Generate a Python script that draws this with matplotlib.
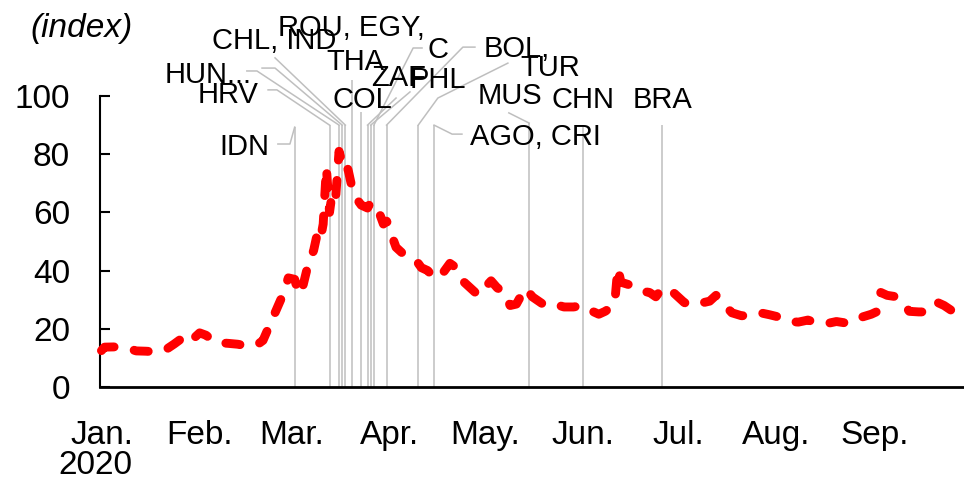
import matplotlib
matplotlib.use("Agg")
import matplotlib.pyplot as plt
import matplotlib.dates as mdates
import pandas as pd

plt.rcParams['font.family'] = ['Liberation Sans', 'DejaVu Sans']

# ---------------- data ----------------
dates = [
    "2020-01-01", "2020-01-02", "2020-01-06", "2020-01-09", "2020-01-12", "2020-01-15",
    "2020-01-18", "2020-01-21", "2020-01-24", "2020-01-27", "2020-01-29", "2020-02-01",
    "2020-02-03", "2020-02-06", "2020-02-10", "2020-02-13", "2020-02-16", "2020-02-19",
    "2020-02-21", "2020-02-23", "2020-02-25", "2020-02-27", "2020-02-29", "2020-03-02",
    "2020-03-03", "2020-03-04", "2020-03-05", "2020-03-06", "2020-03-07", "2020-03-08",
    "2020-03-09", "2020-03-10", "2020-03-11", "2020-03-12", "2020-03-13", "2020-03-14",
    "2020-03-15", "2020-03-16", "2020-03-17", "2020-03-18", "2020-03-19", "2020-03-20",
    "2020-03-21", "2020-03-22", "2020-03-23", "2020-03-24", "2020-03-25", "2020-03-26",
    "2020-03-27", "2020-03-28", "2020-03-29", "2020-03-30", "2020-03-31", "2020-04-01",
    "2020-04-02", "2020-04-03", "2020-04-05", "2020-04-07", "2020-04-09", "2020-04-11",
    "2020-04-13", "2020-04-15", "2020-04-17", "2020-04-20", "2020-04-22", "2020-04-24",
    "2020-04-27", "2020-04-29", "2020-04-30", "2020-05-03", "2020-05-05", "2020-05-07",
    "2020-05-09", "2020-05-11", "2020-05-12", "2020-05-14", "2020-05-16", "2020-05-18",
    "2020-05-20", "2020-05-23", "2020-05-26", "2020-05-29", "2020-06-01", "2020-06-03",
    "2020-06-06", "2020-06-08", "2020-06-10", "2020-06-11", "2020-06-12", "2020-06-13",
    "2020-06-16", "2020-06-19", "2020-06-22", "2020-06-24", "2020-06-26", "2020-06-29",
    "2020-07-01", "2020-07-03", "2020-07-06", "2020-07-09", "2020-07-11", "2020-07-13",
    "2020-07-15", "2020-07-18", "2020-07-21", "2020-07-24", "2020-07-27", "2020-07-30",
    "2020-08-02", "2020-08-05", "2020-08-08", "2020-08-11", "2020-08-14", "2020-08-17",
    "2020-08-20", "2020-08-23", "2020-08-26", "2020-08-28", "2020-08-31", "2020-09-02",
    "2020-09-03", "2020-09-05", "2020-09-08", "2020-09-10", "2020-09-12", "2020-09-15",
    "2020-09-18", "2020-09-21", "2020-09-23", "2020-09-26", "2020-09-28",
]
values = [
    12.5, 13.7, 13.8, 13.4, 12.4, 12.3,
    12.1, 12.6, 14.8, 17.2, 15.6, 18.6,
    17.8, 15.3, 15.0, 14.7, 14.1, 14.4,
    16.0, 21.0, 26.0, 31.0, 37.5, 37.0,
    33.0, 32.0, 36.5, 41.0, 44.0, 47.0,
    52.0, 50.0, 56.0, 75.5, 60.0, 68.0,
    66.0, 81.0, 77.0, 78.0, 74.0, 69.0,
    66.0, 64.0, 62.5, 62.0, 61.5, 63.5,
    63.0, 61.0, 59.0, 56.0, 57.0, 55.0,
    51.0, 48.0, 46.0, 45.0, 44.0, 41.0,
    40.0, 37.5, 38.0, 42.5, 41.0, 36.5,
    33.5, 31.5, 33.0, 36.5, 34.0, 33.0,
    28.0, 28.5, 30.5, 34.0, 31.0, 29.5,
    28.0, 28.5, 27.5, 27.5, 28.0, 26.5,
    25.0, 26.0, 27.5, 28.5, 41.0, 36.0,
    35.0, 33.0, 32.5, 31.0, 34.0, 33.0,
    31.0, 29.0, 28.0, 29.0, 29.5, 31.5,
    29.0, 25.5, 24.5, 24.5, 25.5, 24.8,
    24.0, 22.5, 22.3, 23.0, 22.0, 21.8,
    22.5, 22.0, 22.5, 24.0, 25.0, 26.0,
    32.5, 31.5, 31.0, 29.0, 26.0, 25.8,
    25.8, 29.0, 28.0, 25.8, 26.0,
]

event_dates = [
    "2020-03-02", "2020-03-13", "2020-03-16", "2020-03-17", "2020-03-18", "2020-03-20",
    "2020-03-23", "2020-03-25", "2020-03-26", "2020-03-27", "2020-03-31", "2020-04-10",
    "2020-04-15", "2020-05-15", "2020-06-01", "2020-06-26",
]

label_texts = ["ROU, EGY,", "CHL, IND", "THA", "HUN...", "HRV", "COL", "ZAF", "PHL",
               "C", "BOL,", "TUR", "MUS", "CHN", "BRA", "AGO, CRI", "IDN"]

month_starts = ["2020-01-01", "2020-02-01", "2020-03-01", "2020-04-01", "2020-05-01",
                "2020-06-01", "2020-07-01", "2020-08-01", "2020-09-01"]
month_labels = ["Jan.", "Feb.", "Mar.", "Apr.", "May.", "Jun.", "Jul.", "Aug.", "Sep."]
year_label = "2020"
y_ticks = [0, 20, 40, 60, 80, 100]
unit_label = "(index)"

# ---------------- layout (annotation placement, day offsets from 1 Jan) ----------------
event_tops = [89.3, 90, 90, 90, 90, 105.5, 94.5, 90, 90, 90, 90, 90, 90, 90.7, 89.3, 90]
label_pos = [
    (55.7, 120.6), (34.9, 116.2), (70.9, 108.9), (20.1, 104.5), (30.5, 97.6),
    (72.8, 95.9), (85.1, 103.4), (97.4, 102.7), (102.8, 113.1), (120.5, 113.4),
    (132.4, 107.0), (118.6, 97.4), (142.2, 96.0), (167.8, 96.0), (116.3, 83.2),
    (37.1, 79.7),
]
leaders = [
    [(55.7, 83.5), (59.5, 83.5), (61.0, 89.3)],      # IDN
    [(52.6, 102.1), (55.4, 102.1), (72.0, 90.0)],    # HRV
    [(45.9, 108.6), (49.1, 108.6), (75.0, 90.0)],    # HUN
    [(50.7, 109.6), (54.8, 109.6), (76.0, 90.0)],    # CHL
    [(54.8, 113.1), (77.0, 90.0)],                   # IND
    [(93.0, 99.3), (84.0, 90.0)],                    # ZAF
    [(97.4, 101.4), (85.0, 90.0)],                   # PHL
    [(101.2, 116.5), (98.4, 116.5), (86.0, 90.0)],   # C
    [(117.9, 116.8), (114.1, 116.8), (90.0, 90.0)],  # BOL
    [(128.3, 111.3), (106.2, 99.3), (100.0, 90.0)],  # TUR
    [(113.8, 86.9), (110.7, 86.9), (105.0, 90.0)],   # AGO, CRI
    [(128.6, 94.2), (135.0, 90.7)],                  # MUS
]

GRAY = "#BFBFBF"

fig = plt.figure(figsize=(9.64, 4.8), dpi=100)
ax = fig.add_axes([100 / 964, 93 / 480, 864 / 964, 291 / 480])

base = mdates.date2num(pd.Timestamp("2020-01-01"))
x_data = mdates.date2num(pd.to_datetime(dates))
ev_x = mdates.date2num(pd.to_datetime(event_dates))

ax.vlines(ev_x, 0, event_tops, colors=GRAY, lw=1.1, zorder=1, clip_on=False)
for poly in leaders:
    ax.plot([base + p[0] for p in poly], [p[1] for p in poly], color=GRAY, lw=1.1,
            zorder=1, clip_on=False)

for txt, (dx, vy) in zip(label_texts, label_pos):
    ax.text(base + dx, vy, txt, fontsize=21, ha="left", va="baseline", color="black",
            zorder=4, clip_on=False)

ax.plot(x_data, values, color="#FF0000", lw=6.4, linestyle=(0, (1.6, 2.3)),
        dash_capstyle="round", dash_joinstyle="round", zorder=3, clip_on=False)

ax.set_xlim(base - 0.45, base - 0.45 + 864 / 3.168)
ax.set_ylim(0, 100)

ax.set_xticks(mdates.date2num(pd.to_datetime(month_starts)))
ax.set_xticklabels(month_labels)
ax.tick_params(axis="x", length=0, pad=23.8, labelsize=24)
ax.set_yticks(y_ticks)
ax.tick_params(axis="y", direction="in", length=7.2, width=1.5, pad=21.6, labelsize=24)

for s in ["top", "right"]:
    ax.spines[s].set_visible(False)
ax.spines["left"].set_linewidth(1.5)
ax.spines["bottom"].set_linewidth(2.0)

fig.text(95 / 964, 6 / 480, year_label, fontsize=24, ha="center", va="baseline")
fig.text(30 / 964, 1 - 28.5 / 480, unit_label, fontsize=24, style="italic",
         ha="left", va="center")

fig.savefig("out.png", dpi=100)
